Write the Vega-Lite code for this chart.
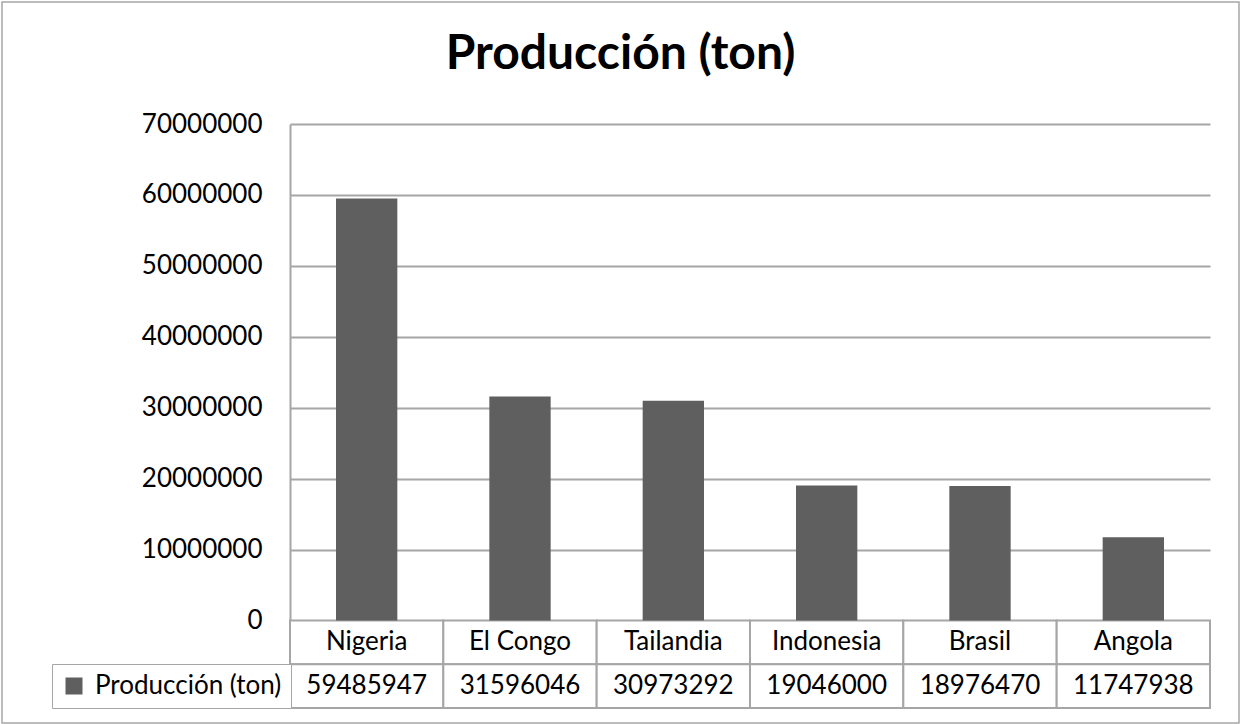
{
  "$schema": "https://vega.github.io/schema/vega-lite/v6.json",
  "autosize": {"type": "none"},
  "padding": {"left": 2, "top": 2, "right": 3, "bottom": 2},
  "width": 1237,
  "height": 721,
  "background": "white",
  "config": {
    "font": "Lato",
    "view": {"stroke": "#a6a6a6", "strokeWidth": 1.5, "fill": "white"},
    "text": {"font": "Lato"}
  },
  "title": {
    "text": "Producción (ton)",
    "font": "Lato",
    "fontSize": 48,
    "fontWeight": "bold",
    "color": "black",
    "anchor": "middle",
    "frame": "group",
    "baseline": "alphabetic",
    "offset": -68,
    "dy": 47
  },
  "datasets": {
    "prod": [
      {"pais": "Nigeria", "produccion": 59485947},
      {"pais": "El Congo", "produccion": 31596046},
      {"pais": "Tailandia", "produccion": 30973292},
      {"pais": "Indonesia", "produccion": 19046000},
      {"pais": "Brasil", "produccion": 18976470},
      {"pais": "Angola", "produccion": 11747938}
    ]
  },
  "data": {"name": "prod"},
  "resolve": {"scale": {"x": "independent", "y": "independent"}},
  "layer": [
    {
      "mark": {"type": "rect", "fill": "white", "stroke": "#a6a6a6", "strokeWidth": 2},
      "encoding": {
        "x": {"field": "pais", "type": "nominal", "sort": null, "axis": null,
              "scale": {"domain": ["Nigeria", "El Congo", "Tailandia", "Indonesia", "Brasil", "Angola"], "range": [288, 1208], "paddingInner": 0, "paddingOuter": 0}},
        "y": {"datum": "cat", "type": "nominal", "axis": null,
              "scale": {"domain": ["cat", "val"], "range": [618.5, 706], "paddingInner": 0, "paddingOuter": 0}}
      }
    },
    {
      "mark": {"type": "rect", "fill": "white", "stroke": "#a6a6a6", "strokeWidth": 2},
      "encoding": {
        "x": {"field": "pais", "type": "nominal", "sort": null, "axis": null,
              "scale": {"domain": ["Nigeria", "El Congo", "Tailandia", "Indonesia", "Brasil", "Angola"], "range": [288, 1208], "paddingInner": 0, "paddingOuter": 0}},
        "y": {"datum": "val", "type": "nominal", "axis": null,
              "scale": {"domain": ["cat", "val"], "range": [618.5, 706], "paddingInner": 0, "paddingOuter": 0}}
      }
    },
    {
      "mark": {"type": "text", "fontSize": 26, "color": "black", "align": "center", "baseline": "middle"},
      "encoding": {
        "x": {"field": "pais", "type": "nominal", "sort": null, "axis": null,
              "scale": {"domain": ["Nigeria", "El Congo", "Tailandia", "Indonesia", "Brasil", "Angola"], "range": [288, 1208], "paddingInner": 0, "paddingOuter": 0}},
        "y": {"datum": "cat", "type": "nominal", "axis": null,
              "scale": {"domain": ["cat", "val"], "range": [618.5, 706], "paddingInner": 0, "paddingOuter": 0}},
        "text": {"field": "pais", "type": "nominal"}
      }
    },
    {
      "mark": {"type": "text", "fontSize": 26, "color": "black", "align": "center", "baseline": "middle"},
      "encoding": {
        "x": {"field": "pais", "type": "nominal", "sort": null, "axis": null,
              "scale": {"domain": ["Nigeria", "El Congo", "Tailandia", "Indonesia", "Brasil", "Angola"], "range": [288, 1208], "paddingInner": 0, "paddingOuter": 0}},
        "y": {"datum": "val", "type": "nominal", "axis": null,
              "scale": {"domain": ["cat", "val"], "range": [618.5, 706], "paddingInner": 0, "paddingOuter": 0}},
        "text": {"field": "produccion", "type": "quantitative", "format": "d"}
      }
    },
    {
      "mark": {"type": "bar"},
      "encoding": {
        "x": {"field": "pais", "type": "nominal", "sort": null, "axis": null,
              "scale": {"domain": ["Nigeria", "El Congo", "Tailandia", "Indonesia", "Brasil", "Angola"], "range": [288, 1208], "paddingInner": 0.6, "paddingOuter": 0.3}},
        "y": {"field": "produccion", "type": "quantitative",
              "scale": {"domain": [0, 70000000], "range": [618.5, 122], "nice": false, "zero": true},
              "axis": {
                "title": null,
                "orient": "left",
                "offset": -288,
                "values": [0, 10000000, 20000000, 30000000, 40000000, 50000000, 60000000, 70000000],
                "format": "d",
                "grid": false,
                "domain": true,
                "domainColor": "#a6a6a6",
                "domainWidth": 2,
                "ticks": true,
                "tickSize": -920,
                "tickColor": "#a6a6a6",
                "tickWidth": 2,
                "labelPadding": 948,
                "labelFont": "Lato",
                "labelFontSize": 26,
                "labelColor": "black"
              }},
        "color": {
          "datum": "Producción (ton)",
          "type": "nominal",
          "scale": {"range": ["#5f5f5f"]},
          "legend": {
            "orient": "none",
            "legendX": 50,
            "legendY": 662,
            "title": null,
            "symbolType": "square",
            "symbolSize": 289,
            "symbolStrokeWidth": 0,
            "labelFont": "Lato",
            "labelFontSize": 26,
            "labelColor": "black",
            "labelLimit": 400,
            "labelOffset": 8,
            "strokeColor": "#a6a6a6",
            "fillColor": "white",
            "padding": 9
          }
        }
      }
    }
  ]
}
